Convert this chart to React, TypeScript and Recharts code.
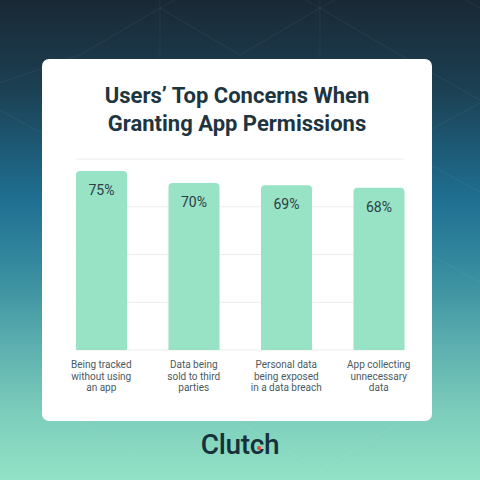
import { FC } from "react";
import { BarChart, Bar, XAxis, YAxis, CartesianGrid, LabelList } from "recharts";

// survey answers, one bar each
export const concerns = [
  "Being tracked\nwithout using\nan app",
  "Data being\nsold to third\nparties",
  "Personal data\nbeing exposed\nin a data breach",
  "App collecting\nunnecessary\ndata",
];
export const shares = [75, 70, 69, 68];
export const shareTicks = [0, 20, 40, 60, 80];

const data = concerns.map((c, i) => ({ concern: c, share: shares[i] }));

const FONT = "Roboto, 'Noto Sans', sans-serif";

const ConcernTick: FC<any> = ({ x, y, payload }) => {
  const lines = String(payload.value).split("\n");
  return (
    <text x={x} y={y + 10} textAnchor="middle" fill="#4b5a60" fontSize={10} fontFamily={FONT}>
      {lines.map((l, i) => (
        <tspan key={i} x={x} dy={i === 0 ? 0 : 11.6}>
          {l}
        </tspan>
      ))}
    </text>
  );
};

// grid lines only reach from the first bar's left edge to the last bar's right edge
const GridLine = (p: any) => (
  <line
    key={`${p.y1}-${p.index}`}
    x1={p.x1 + 20.5}
    x2={p.x2 - 20.5}
    y1={p.y1}
    y2={p.y2}
    stroke="#ececec"
    strokeWidth={1}
  />
);

const Backdrop = () => (
  <svg width={480} height={480} style={{ position: "absolute", left: 0, top: 0 }}>
    <g stroke="#ffffff" strokeOpacity={0.06} fill="none">
      <polyline points="-20,90 80,55 160,8 175,0" />
      <polyline points="160,0 160,58" />
      <polyline points="320,0 320,58" />
      <polyline points="160,8 240,55 320,8 400,55 480,100" />
      <polyline points="305,0 320,8 335,0" />
      <polyline points="465,0 480,8" />
      <polyline points="0,110 45,135" />
      <polyline points="430,130 480,103" />
      <polyline points="430,165 480,192" />
      <polyline points="430,255 480,282" />
      <polyline points="80,422 180,480" />
      <polyline points="240,423 320,470 400,423" />
      <polyline points="320,470 340,480" />
    </g>
  </svg>
);

const App: FC = () => {
  return (
    <div
      style={{
        position: "absolute",
        left: 0,
        top: 0,
        width: 480,
        height: 480,
        overflow: "hidden",
        background:
          "linear-gradient(180deg, #1a2835 0%, #1c3f52 18%, #1d5c78 32%, #1f7092 42%, #3a8fa0 58%, #5cafaf 72%, #7ccdbb 86%, #92e2c6 100%)",
        fontFamily: FONT,
      }}
    >
      <Backdrop />
      <div
        style={{
          position: "absolute",
          left: 42,
          top: 59,
          width: 390,
          height: 362,
          borderRadius: 7,
          background: "#ffffff",
        }}
      />
      <div
        style={{
          position: "absolute",
          left: 42,
          top: 82,
          width: 390,
          textAlign: "center",
          fontSize: 22,
          lineHeight: "28px",
          fontWeight: 700,
          color: "#1d3540",
        }}
      >
        Users’ Top Concerns When
        <br />
        Granting App Permissions
      </div>
      <div style={{ position: "absolute", left: 0, top: 0 }}>
        <BarChart
          width={480}
          height={400}
          data={data}
          margin={{ top: 159, right: 55, left: 55, bottom: 0 }}
          barSize={51}
        >
          <CartesianGrid vertical={false} horizontal={GridLine} />
          <XAxis
            dataKey="concern"
            height={50}
            axisLine={false}
            tickLine={false}
            interval={0}
            tick={<ConcernTick />}
          />
          <YAxis hide domain={[0, 80]} ticks={shareTicks} />
          <Bar dataKey="share" fill="#98e2c6" radius={[4, 4, 0, 0]} isAnimationActive={false}>
            <LabelList
              dataKey="share"
              position="insideTop"
              offset={14}
              formatter={(v: any) => `${v}%`}
              fill="#2b3d45"
              fontSize={14}
              fontFamily={FONT}
            />
          </Bar>
        </BarChart>
      </div>
      <div
        style={{
          position: "absolute",
          left: 0,
          width: 480,
          top: 428,
          textAlign: "center",
          fontSize: 28,
          fontWeight: 500,
          color: "#17313b",
          letterSpacing: -0.3,
        }}
      >
        Clutch
      </div>
      <div
        style={{
          position: "absolute",
          left: 256.5,
          top: 445.5,
          width: 4.5,
          height: 4.5,
          borderRadius: "50%",
          background: "#ef4335",
        }}
      />
    </div>
  );
};

export default App;
